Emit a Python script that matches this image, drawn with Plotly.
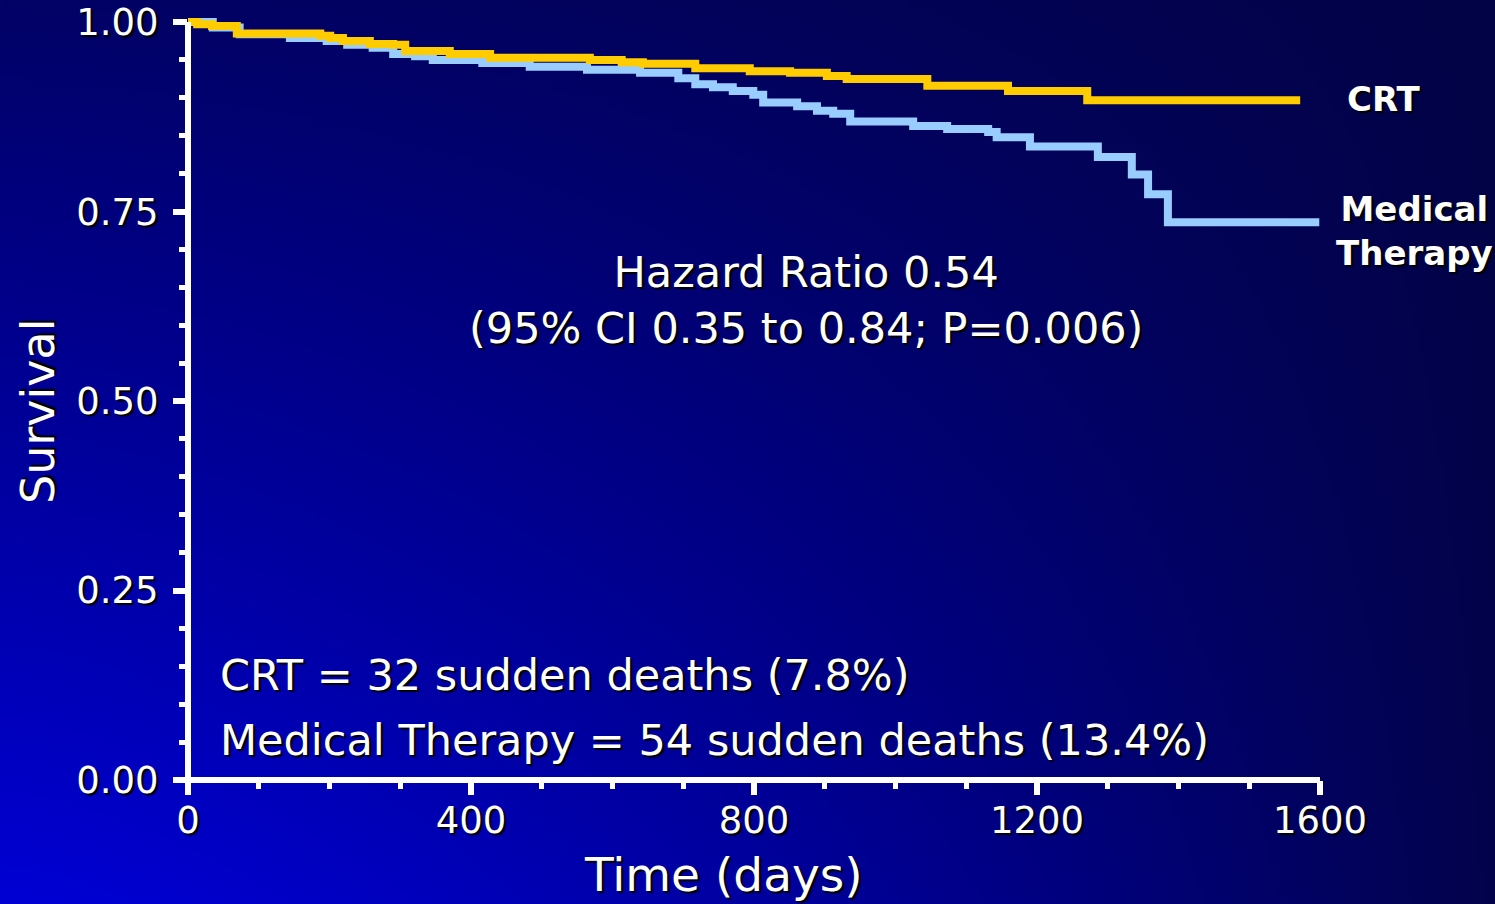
import base64
import struct
import zlib

import numpy as np
import plotly.graph_objects as go

# Kaplan-Meier survival (sudden death), time in days
crt_days = [0, 13, 34, 69, 187, 201, 219, 257, 290, 307, 370, 427, 568, 613, 643,
            717, 794, 851, 903, 931, 1045, 1159, 1271, 1572]
crt_surv = [1.000, 0.997, 0.995, 0.985, 0.982, 0.979, 0.975, 0.971, 0.970, 0.962,
            0.958, 0.953, 0.950, 0.947, 0.945, 0.939, 0.935, 0.933, 0.929, 0.925,
            0.916, 0.909, 0.897, 0.897]

med_days = [0, 35, 73, 144, 196, 225, 261, 290, 321, 346, 416, 483, 564, 639, 693,
            717, 742, 770, 799, 813, 861, 889, 912, 936, 1025, 1073, 1131, 1143,
            1190, 1286, 1334, 1357, 1385, 1599]
med_surv = [1.000, 0.993, 0.984, 0.979, 0.975, 0.970, 0.966, 0.958, 0.955, 0.950,
            0.946, 0.941, 0.937, 0.933, 0.926, 0.918, 0.914, 0.909, 0.904, 0.894,
            0.889, 0.883, 0.879, 0.869, 0.863, 0.859, 0.855, 0.848, 0.836, 0.822,
            0.799, 0.773, 0.736, 0.736]

x_ticks = [0, 400, 800, 1200, 1600]
y_ticks = [0.00, 0.25, 0.50, 0.75, 1.00]

hazard_text = "Hazard Ratio 0.54<br>(95% CI 0.35 to 0.84; P=0.006)"
crt_deaths = "CRT = 32 sudden deaths (7.8%)"
med_deaths = "Medical Therapy = 54 sudden deaths (13.4%)"

W, H = 1495, 904
ML, MR, MT, MB = 188, 175, 13, 124
PW, PH = W - ML - MR, H - MT - MB
Y_MAX = 1.012

FONT = "DejaVu Sans, Verdana, sans-serif"
SHADOW = "2px 2px 1px #000000"
WHITE = "#ffffff"


def png_data_uri(rgb):
    """Encode an (h, w, 3) uint8 array as a PNG data URI."""
    h, w, _ = rgb.shape
    raw = b"".join(b"\x00" + rgb[i].tobytes() for i in range(h))

    def chunk(tag, data):
        c = struct.pack(">I", len(data)) + tag + data
        return c + struct.pack(">I", zlib.crc32(tag + data) & 0xFFFFFFFF)

    png = (b"\x89PNG\r\n\x1a\n"
           + chunk(b"IHDR", struct.pack(">IIBBBBB", w, h, 8, 2, 0, 0, 0))
           + chunk(b"IDAT", zlib.compress(raw, 9))
           + chunk(b"IEND", b""))
    return "data:image/png;base64," + base64.b64encode(png).decode()


# Blue backdrop: bright at lower left, fading to navy at the right
gh, gw = 181, 299
v = np.linspace(0, 1, gh)[:, None]
u = np.linspace(0, 1, gw)[None, :]
left = 102 + (212 - 102) * v
right = 70 + 6 * v
wgt = u ** 1.4
blue = left * (1 - wgt) + right * wgt
rg = np.clip(3 - (blue - 70) / 25, 0, 3)
img = np.stack([rg + 0 * blue, rg + 0 * blue, blue], axis=-1).clip(0, 255).astype(np.uint8)
bg_uri = png_data_uri(img)


def px(xp, yp):
    """Figure pixel position -> paper coordinates."""
    return (xp - ML) / PW, (H - MB - yp) / PH


fig = go.Figure()
fig.add_trace(go.Scatter(x=med_days, y=med_surv, mode="lines", line_shape="hv",
                         line=dict(color="#99ccff", width=8), name="Medical Therapy",
                         hoverinfo="x+y"))
fig.add_trace(go.Scatter(x=crt_days, y=crt_surv, mode="lines", line_shape="hv",
                         line=dict(color="#ffcc00", width=8), name="CRT",
                         hoverinfo="x+y"))

tick_font = dict(family=FONT, size=37, color=WHITE, shadow=SHADOW)

fig.update_layout(
    width=W, height=H,
    margin=dict(l=ML, r=MR, t=MT, b=MB, pad=0, autoexpand=False),
    paper_bgcolor="#000066", plot_bgcolor="rgba(0,0,0,0)",
    showlegend=False,
    images=[dict(source=bg_uri, xref="paper", yref="paper",
                 x=-ML / PW, y=1 + MT / PH, sizex=W / PW, sizey=H / PH,
                 sizing="stretch", layer="below", xanchor="left", yanchor="top")],
    xaxis=dict(range=[0, 1600], tickvals=x_ticks, showgrid=False, zeroline=False,
               showline=False, automargin=False, ticks="outside", ticklen=14,
               tickwidth=6, tickcolor=WHITE, tickfont=tick_font, ticklabelstandoff=-6,
               minor=dict(dtick=100, tick0=0, ticks="outside", ticklen=8,
                          tickwidth=5, tickcolor=WHITE, showgrid=False)),
    yaxis=dict(range=[0, Y_MAX], tickvals=y_ticks, tickformat=".2f", showgrid=False,
               zeroline=False, showline=False, automargin=False, ticks="outside",
               ticklen=14, tickwidth=6, tickcolor=WHITE, tickfont=tick_font,
               ticklabelstandoff=7,
               minor=dict(dtick=0.05, tick0=0, ticks="outside", ticklen=8,
                          tickwidth=5, tickcolor=WHITE, showgrid=False)),
)

# Axis lines
x0p, _ = px(174, 0)
fig.add_shape(type="line", xref="paper", yref="paper", x0=x0p, x1=1, y0=0, y1=0,
              line=dict(color=WHITE, width=6))
fig.add_shape(type="line", xref="paper", yref="paper", x0=0, x1=0, y0=0, y1=1 / Y_MAX,
              line=dict(color=WHITE, width=6))


def text(s, xp, yp, size, xanchor="center", bold=False, align="center", angle=0):
    xx, yy = px(xp, yp)
    fig.add_annotation(text=f"<b>{s}</b>" if bold else s, x=xx, y=yy,
                       xref="paper", yref="paper", xanchor=xanchor, yanchor="middle",
                       showarrow=False, align=align, textangle=angle,
                       font=dict(family=FONT, size=size, color=WHITE, shadow=SHADOW))


text("Survival", 38, 412, 46, angle=-90)
text("Time (days)", 723, 874, 47)
text(hazard_text, 806, 300, 43)
text(crt_deaths, 218, 675, 43, xanchor="left")
text(med_deaths, 218, 740, 43, xanchor="left")
text("CRT", 1384, 99, 34, bold=True)
text("Medical<br>Therapy", 1414, 231, 34, bold=True)

fig.write_html("out.html")
